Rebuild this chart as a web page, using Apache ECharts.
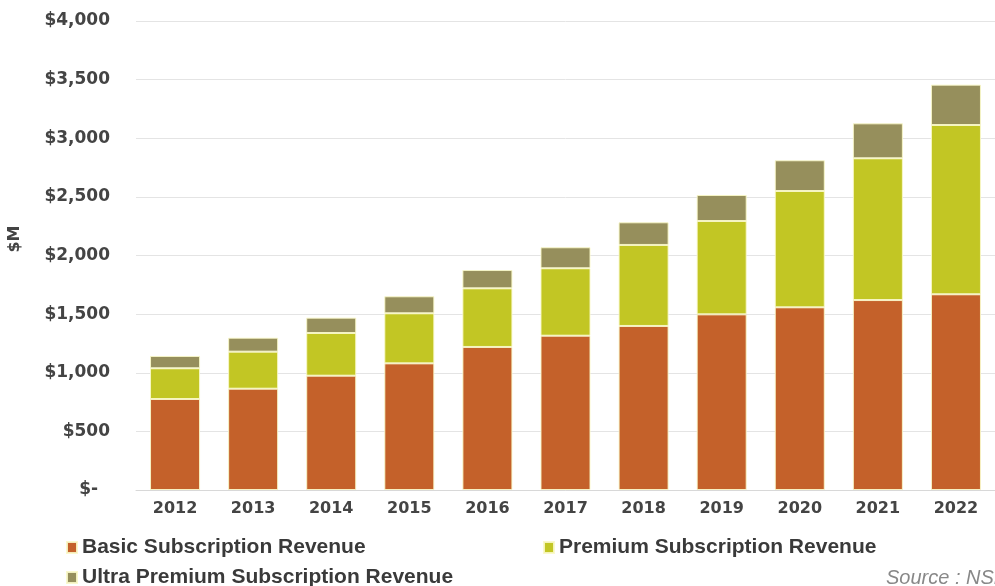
<!DOCTYPE html>
<html>
<head>
<meta charset="utf-8">
<script src="https://cdn.jsdelivr.net/npm/echarts@6/dist/echarts.min.js"></script>
<style>html,body{margin:0;padding:0;background:#fff}#c{width:995px;height:586px}</style>
</head>
<body>
<div id="c"></div>
<script>
var years = ['2012','2013','2014','2015','2016','2017','2018','2019','2020','2021','2022'];
var basic = [776, 864, 975, 1080, 1220, 1316, 1399, 1498, 1558, 1620, 1669];
var premium = [262, 316, 364, 427, 500, 575, 691, 796, 992, 1209, 1444];
var ultra = [105, 119, 131, 145, 156, 179, 193, 222, 262, 298, 344];
var seriesNames = ['Basic Subscription Revenue', 'Premium Subscription Revenue', 'Ultra Premium Subscription Revenue'];
var colors = ['#C4612A', '#C2C624', '#968F5C'];

var chart = echarts.init(document.getElementById('c'));
var font = 'Arial, "Liberation Sans", sans-serif';
var axisFont = '"DejaVu Sans", sans-serif';
var legendText = {fontFamily: font, fontWeight: 'bold', fontSize: 21, color: '#3a3a3a'};
function mk(name, data, color) {
  return {
    name: name, type: 'bar', stack: 'rev', data: data, barWidth: 50,
    itemStyle: {color: color, borderColor: 'rgba(250,248,200,0.9)', borderWidth: 1}
  };
}
function lg(idx, left, top) {
  return {data: [seriesNames[idx]], left: left, top: top, icon: 'rect', itemWidth: 10, itemHeight: 11, itemGap: 5, textStyle: legendText, padding: 0};
}
chart.setOption({
  animation: false,
  color: colors,
  grid: {left: 136, top: 21, width: 862, height: 469, containLabel: false},
  xAxis: {
    type: 'category', data: years,
    axisLine: {lineStyle: {color: '#d8d8d8'}},
    axisTick: {show: false},
    axisLabel: {fontFamily: axisFont, fontWeight: 'bold', fontSize: 16, color: '#444', margin: 11}
  },
  yAxis: {
    type: 'value', min: 0, max: 4000, interval: 500,
    axisLine: {show: false}, axisTick: {show: false},
    splitLine: {lineStyle: {color: '#e4e4e4'}},
    axisLabel: {
      fontFamily: axisFont, fontWeight: 'bold', fontSize: 17, color: '#444', margin: 26,
      formatter: function (v) { return v === 0 ? '$-  ' : '$' + v.toLocaleString('en-US'); }
    }
  },
  legend: [lg(0, 66, 537), lg(1, 543, 537), lg(2, 66, 567)],
  graphic: [
    {type: 'text', x: 15, y: 239, rotation: Math.PI / 2,
     style: {text: '$M', align: 'center', verticalAlign: 'middle', font: 'bold 16px ' + axisFont, fill: '#444'}},
    {type: 'text', left: 886, top: 568, style: {text: 'Source : NSR', font: 'italic 20px ' + font, fill: '#888'}}
  ],
  series: [
    mk(seriesNames[0], basic, colors[0]),
    mk(seriesNames[1], premium, colors[1]),
    mk(seriesNames[2], ultra, colors[2])
  ]
});
</script>
</body>
</html>
